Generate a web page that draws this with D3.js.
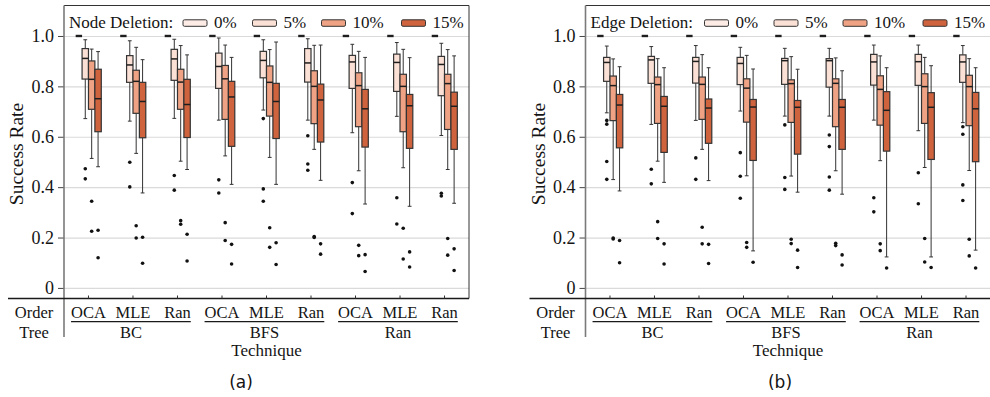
<!DOCTYPE html>
<html>
<head>
<meta charset="utf-8">
<script src="https://cdn.jsdelivr.net/npm/d3@7"></script>
<style>
  body { margin: 0; background: #fff; }
</style>
</head>
<body>
<svg id="chart" width="990" height="397"></svg>
<script>
const treeTechniques = ["BC", "BFS", "Ran"];
const orderTechniques = ["OCA", "MLE", "Ran"];
const deletionLevels = ["0%", "5%", "10%", "15%"];
const yTicks = [0, 0.2, 0.4, 0.6, 0.8, 1.0];

// box stats per group: [whisker low, q1, median, q3, whisker high]
// groups run BC-OCA, BC-MLE, BC-Ran, BFS-OCA, ... Ran-Ran
const node0 = [
  [1, 1, 1, 1, 1], [1, 1, 1, 1, 1], [1, 1, 1, 1, 1],
  [1, 1, 1, 1, 1], [1, 1, 1, 1, 1], [1, 1, 1, 1, 1],
  [1, 1, 1, 1, 1], [1, 1, 1, 1, 1], [1, 1, 1, 1, 1]
];
const node5 = [
  [0.672, 0.829, 0.911, 0.950, 0.985], [0.662, 0.816, 0.885, 0.922, 0.981], [0.673, 0.824, 0.909, 0.947, 0.987],
  [0.666, 0.792, 0.879, 0.932, 0.992], [0.706, 0.834, 0.903, 0.939, 0.985], [0.666, 0.817, 0.893, 0.950, 0.989],
  [0.616, 0.792, 0.897, 0.923, 0.967], [0.681, 0.780, 0.895, 0.928, 0.974], [0.605, 0.763, 0.887, 0.919, 0.971]
];
const node10 = [
  [0.514, 0.709, 0.828, 0.901, 0.948], [0.534, 0.693, 0.820, 0.864, 0.955], [0.503, 0.709, 0.817, 0.868, 0.962],
  [0.524, 0.669, 0.830, 0.883, 0.964], [0.518, 0.682, 0.816, 0.881, 0.946], [0.550, 0.652, 0.800, 0.862, 0.963],
  [0.465, 0.640, 0.803, 0.854, 0.939], [0.477, 0.620, 0.800, 0.848, 0.947], [0.470, 0.629, 0.811, 0.848, 0.946]
];
const node15 = [
  [0.481, 0.620, 0.751, 0.868, 0.938], [0.377, 0.596, 0.740, 0.816, 0.906], [0.470, 0.597, 0.728, 0.828, 0.925],
  [0.411, 0.562, 0.758, 0.820, 0.915], [0.411, 0.593, 0.740, 0.812, 0.976], [0.427, 0.579, 0.746, 0.809, 0.964],
  [0.333, 0.559, 0.711, 0.788, 0.915], [0.324, 0.554, 0.723, 0.768, 0.914], [0.336, 0.550, 0.721, 0.777, 0.921]
];
const nodeOut5 = [[0.473, 0.433], [0.499, 0.401], [0.446, 0.388], [0.429, 0.377], [0.672, 0.393, 0.344],
  [0.604, 0.492, 0.467], [0.418, 0.295], [0.358, 0.254], [0.376, 0.365]];
const nodeOut10 = [[0.344, 0.225], [0.247, 0.198], [0.267, 0.253], [0.259, 0.188], [0.239, 0.161],
  [0.204, 0.200], [0.169, 0.128], [0.237, 0.115], [0.196, 0.130]];
const nodeOut15 = [[0.229, 0.120], [0.201, 0.098], [0.213, 0.107], [0.173, 0.095], [0.179, 0.093],
  [0.175, 0.134], [0.132, 0.065], [0.143, 0.083], [0.155, 0.069]];

const edge0 = [
  [1, 1, 1, 1, 1], [1, 1, 1, 1, 1], [1, 1, 1, 1, 1],
  [1, 1, 1, 1, 1], [1, 1, 1, 1, 1], [1, 1, 1, 1, 1],
  [1, 1, 1, 1, 1], [1, 1, 1, 1, 1], [1, 1, 1, 1, 1]
];
const edge5 = [
  [0.695, 0.820, 0.895, 0.915, 0.960], [0.649, 0.812, 0.905, 0.919, 0.958], [0.665, 0.813, 0.899, 0.915, 0.962],
  [0.702, 0.807, 0.891, 0.915, 0.955], [0.682, 0.808, 0.902, 0.911, 0.951], [0.682, 0.797, 0.902, 0.910, 0.951],
  [0.666, 0.805, 0.897, 0.927, 0.964], [0.624, 0.804, 0.898, 0.927, 0.964], [0.656, 0.816, 0.897, 0.925, 0.962]
];
const edge10 = [
  [0.430, 0.664, 0.803, 0.841, 0.909], [0.503, 0.653, 0.807, 0.837, 0.910], [0.550, 0.669, 0.808, 0.837, 0.926],
  [0.445, 0.658, 0.793, 0.830, 0.923], [0.444, 0.657, 0.811, 0.826, 0.918], [0.465, 0.640, 0.812, 0.830, 0.913],
  [0.505, 0.646, 0.788, 0.842, 0.921], [0.478, 0.653, 0.799, 0.850, 0.915], [0.466, 0.644, 0.799, 0.844, 0.910]
];
const edge15 = [
  [0.385, 0.556, 0.726, 0.768, 0.878], [0.419, 0.538, 0.721, 0.760, 0.874], [0.426, 0.574, 0.714, 0.750, 0.874],
  [0.147, 0.506, 0.718, 0.748, 0.869], [0.380, 0.531, 0.717, 0.744, 0.868], [0.372, 0.550, 0.717, 0.748, 0.862],
  [0.123, 0.543, 0.705, 0.779, 0.874], [0.123, 0.510, 0.717, 0.775, 0.882], [0.150, 0.501, 0.711, 0.776, 0.874]
];
const edgeOut5 = [[0.665, 0.650, 0.502, 0.431], [0.471, 0.413], [0.516, 0.431], [0.537, 0.443, 0.356],
  [0.647, 0.438, 0.391], [0.607, 0.561, 0.440, 0.388], [0.358, 0.302], [0.457, 0.334], [0.640, 0.610, 0.409, 0.347]];
const edgeOut10 = [[0.198, 0.194], [0.263, 0.196], [0.241, 0.175], [0.180, 0.161], [0.193, 0.176],
  [0.177, 0.168], [0.175, 0.148], [0.196, 0.103], [0.193, 0.127]];
const edgeOut15 = [[0.188, 0.100], [0.175, 0.095], [0.173, 0.097], [0.102], [0.150, 0.081],
  [0.131, 0.091], [0.079], [0.081], [0.079]];

const serif = "'Liberation Serif', 'DejaVu Serif', serif";
const svg = d3.select("#chart");
const plotW = 405, plotTop = 5.5, plotBottom = 298.5;
const y = d3.scaleLinear().domain([-0.042, 1.121]).range([plotBottom, plotTop]);
const color = d3.scaleOrdinal().domain(deletionLevels)
  .range(["#fdece5", "#fbe0d5", "#efa384", "#cf633e"]);
const groups = treeTechniques.flatMap(t => orderTechniques.map(o => ({ tree: t, order: o, key: t + "-" + o })));
const edgeCol = "#333";

function label(sel, size) {
  return sel.style("font-family", serif).style("font-size", size + "px").attr("fill", "#141414");
}

function panel(x0, title, boxes, outliers, caption, capX) {
  const g = svg.append("g");
  const x = d3.scaleBand().domain(groups.map(d => d.key)).range([x0, x0 + plotW]).paddingOuter(0.05);
  const hue = d3.scaleBand().domain(deletionLevels).range([-12.8, 12.8]);
  const cx = (gi, lvl) => x(groups[gi].key) + x.bandwidth() / 2 + hue(lvl) + hue.bandwidth() / 2;
  const bw = hue.bandwidth(), capW = 3.8;

  // horizontal grid
  g.append("g").attr("transform", `translate(${x0},0)`)
    .call(d3.axisLeft(y).tickValues(yTicks).tickSize(-plotW).tickFormat(""))
    .call(a => a.select(".domain").remove())
    .selectAll("line").attr("stroke", "#dadada").attr("stroke-width", 1.2);

  // y ticks + labels
  const ya = g.append("g").attr("transform", `translate(${x0},0)`)
    .call(d3.axisLeft(y).tickValues(yTicks).tickSize(6).tickPadding(4)
      .tickFormat(d => d === 0 ? "0" : d.toFixed(1)));
  ya.select(".domain").remove();
  ya.selectAll("line").attr("stroke", "#444");
  label(ya.selectAll("text"), 18);

  label(g.append("text"), 19.5)
    .attr("transform", `translate(${x0 - 41},154) rotate(-90)`)
    .attr("text-anchor", "middle")
    .text("Success Rate");

  // boxes
  deletionLevels.forEach((lvl, li) => {
    const lg = g.append("g");
    lg.selectAll("g.box").data(boxes[li]).join("g").attr("class", "box")
      .each(function (s, gi) {
        const b = d3.select(this), c = cx(gi, lvl);
        const [lo, q1, med, q3, hi] = s;
        b.append("line").attr("x1", c).attr("x2", c).attr("y1", y(q1)).attr("y2", y(lo))
          .attr("stroke", edgeCol).attr("stroke-width", 1);
        b.append("line").attr("x1", c).attr("x2", c).attr("y1", y(q3)).attr("y2", y(hi))
          .attr("stroke", edgeCol).attr("stroke-width", 1);
        [lo, hi].forEach(v => b.append("line")
          .attr("x1", c - capW / 2).attr("x2", c + capW / 2).attr("y1", y(v)).attr("y2", y(v))
          .attr("stroke", edgeCol).attr("stroke-width", 1));
        b.append("rect").attr("x", c - bw / 2).attr("width", bw)
          .attr("y", y(q3)).attr("height", y(q1) - y(q3))
          .attr("fill", color(lvl)).attr("stroke", edgeCol).attr("stroke-width", 1.2);
        b.append("line").attr("x1", c - bw / 2).attr("x2", c + bw / 2).attr("y1", y(med)).attr("y2", y(med))
          .attr("stroke", "#1e1e1e").attr("stroke-width", q1 === q3 ? 2.4 : 1.5);
      });
    const pts = (outliers[li] || []).flatMap((vals, gi) => vals.map(v => ({ gi, v })));
    lg.selectAll("circle").data(pts).join("circle")
      .attr("cx", d => cx(d.gi, lvl)).attr("cy", d => y(d.v)).attr("r", 1.8)
      .attr("fill", "#111");
  });

  // frame
  g.append("path").attr("d", `M${x0},${plotTop}H${x0 + plotW}V${plotBottom}`)
    .attr("fill", "none").attr("stroke", "#333").attr("stroke-width", 1);
  g.append("line").attr("x1", x0).attr("x2", x0).attr("y1", plotTop).attr("y2", 337)
    .attr("stroke", "#7a7a7a").attr("stroke-width", 1.6);
  g.append("line").attr("x1", x0 - 56).attr("x2", x0 + plotW).attr("y1", plotBottom).attr("y2", plotBottom)
    .attr("stroke", "#1a1a1a").attr("stroke-width", 1.3);

  // x axis: order technique per group
  const xa = g.append("g").attr("transform", `translate(0,${plotBottom})`)
    .call(d3.axisBottom(x).tickSizeInner(-3).tickSizeOuter(0).tickPadding(8)
      .tickFormat(k => groups.find(d => d.key === k).order));
  xa.select(".domain").remove();
  xa.selectAll("line").attr("stroke", "#333");
  label(xa.selectAll("text"), 16.5);

  const widths = {};
  xa.selectAll(".tick text").each(function (k) { widths[k] = this.getComputedTextLength(); });
  const center = k => x(k) + x.bandwidth() / 2;

  treeTechniques.forEach(t => {
    const first = t + "-" + orderTechniques[0], last = t + "-" + orderTechniques[orderTechniques.length - 1];
    const l = center(first) - widths[first] / 2, r = center(last) + widths[last] / 2;
    g.append("line").attr("x1", l).attr("x2", r).attr("y1", 321.7).attr("y2", 321.7)
      .attr("stroke", "#1a1a1a").attr("stroke-width", 1.2);
    label(g.append("text"), 16.5).attr("x", (l + r) / 2).attr("y", 337.5).attr("text-anchor", "middle")
      .text(t);
  });

  label(g.append("text"), 16.5).attr("x", x0 - 30).attr("y", 318).attr("text-anchor", "middle").text("Order");
  label(g.append("text"), 16.5).attr("x", x0 - 30).attr("y", 337.5).attr("text-anchor", "middle").text("Tree");
  label(g.append("text"), 17).attr("x", x0 + plotW / 2).attr("y", 355.5).attr("text-anchor", "middle")
    .text("Technique");

  // legend
  const leg = g.append("g");
  label(leg.append("text"), 17).attr("x", x0 + 5).attr("y", 27.5).text(title);
  const patchX = [119, 188.5, 257.5, 337.5];
  deletionLevels.forEach((lvl, i) => {
    leg.append("rect").attr("x", x0 + patchX[i]).attr("y", 19.8).attr("width", 24).attr("height", 6.5)
      .attr("rx", 1.5).attr("fill", color(lvl)).attr("stroke", "#333").attr("stroke-width", 1);
    label(leg.append("text"), 17).attr("x", x0 + patchX[i] + 31).attr("y", 27.5).text(lvl);
  });

  svg.append("text").attr("x", capX).attr("y", 388).attr("text-anchor", "middle")
    .style("font-family", "'DejaVu Sans', sans-serif").style("font-size", "17px")
    .attr("fill", "#141414").text(caption);
}

panel(64, "Node Deletion:", [node0, node5, node10, node15], [null, nodeOut5, nodeOut10, nodeOut15], "(a)", 241);
panel(585.5, "Edge Deletion:", [edge0, edge5, edge10, edge15], [null, edgeOut5, edgeOut10, edgeOut15], "(b)", 780);
</script>
</body>
</html>
